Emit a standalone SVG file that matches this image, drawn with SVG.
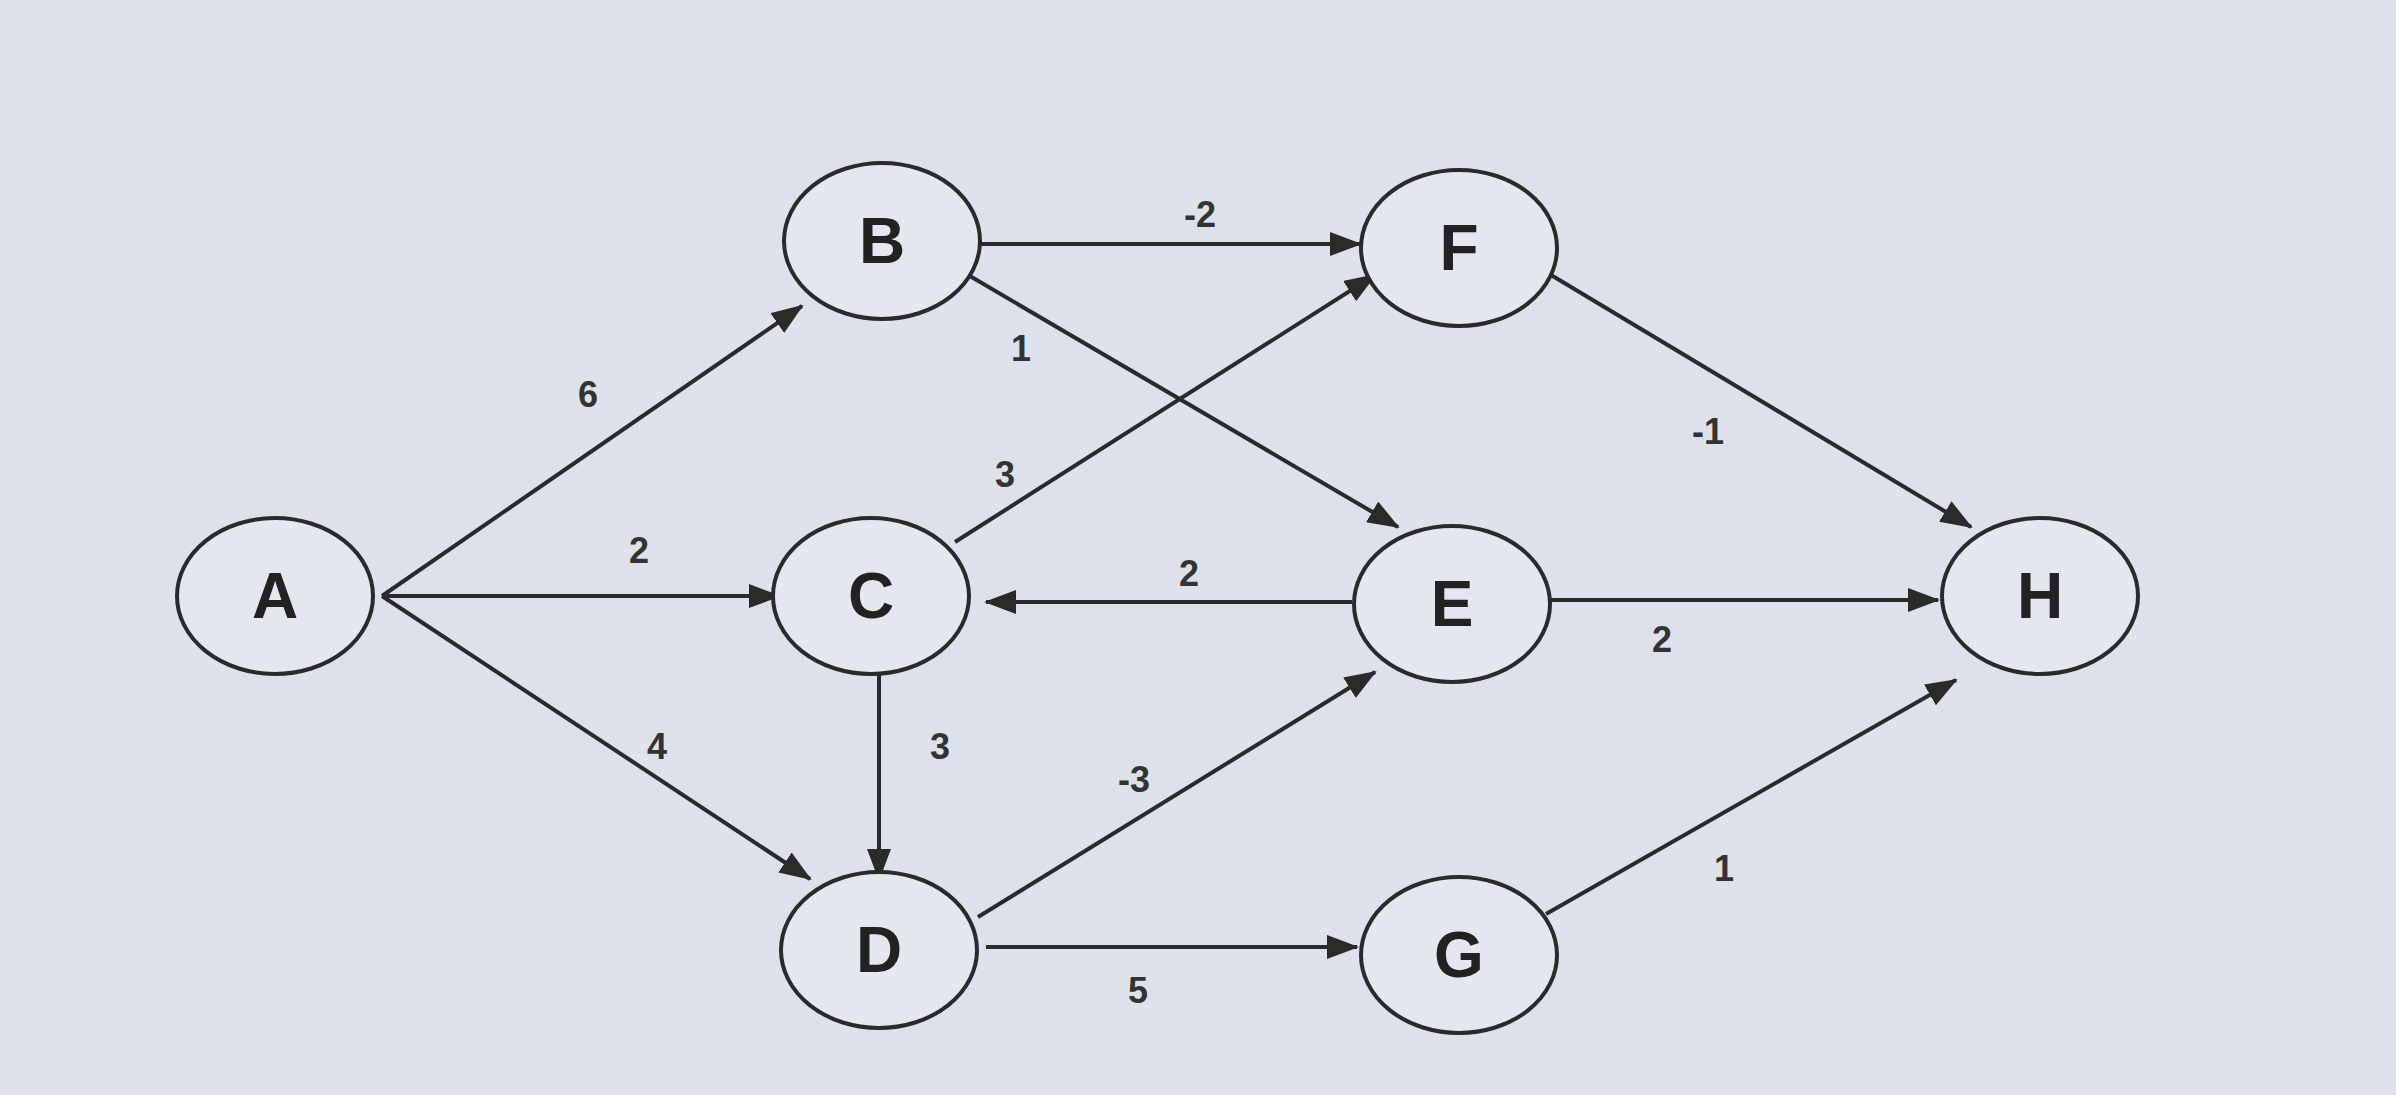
<svg xmlns="http://www.w3.org/2000/svg" width="2396" height="1095" viewBox="0 0 2396 1095">
<style>
.n ellipse{fill:#e4e8ee;stroke:#2a2a2a;stroke-width:4}
.n text{font-family:"Liberation Sans",Arial,sans-serif;font-size:64px;font-weight:bold;fill:#222;text-anchor:middle;dominant-baseline:central}
.e line{stroke:#2a2a2a;stroke-width:4;marker-end:url(#ah)}
.l{font-family:"Liberation Sans",Arial,sans-serif;font-size:36px;font-weight:bold;fill:#333;text-anchor:middle;dominant-baseline:central}
</style>
<defs><marker id="ah" markerWidth="8" markerHeight="6" refX="7.5" refY="3" orient="auto" markerUnits="strokeWidth"><path d="M0,0L8,3L0,6z" fill="#2a2a2a"/></marker></defs>
<rect width="2396" height="1095" fill="#dde2ea"/>
<g id="edges" class="e">
<line x1="382" y1="596" x2="802" y2="306"/>
<line x1="382" y1="596" x2="779" y2="596"/>
<line x1="382" y1="596" x2="810" y2="879"/>
<line x1="978" y1="244" x2="1360" y2="244"/>
<line x1="963" y1="272" x2="1398" y2="527"/>
<line x1="955" y1="542" x2="1375" y2="275"/>
<line x1="1352" y1="602" x2="986" y2="602"/>
<line x1="879" y1="675" x2="879" y2="879"/>
<line x1="978" y1="917" x2="1375" y2="672"/>
<line x1="986" y1="947" x2="1357" y2="947"/>
<line x1="1546" y1="272" x2="1971" y2="527"/>
<line x1="1551" y1="600" x2="1938" y2="600"/>
<line x1="1546" y1="914" x2="1956" y2="680"/>
</g>
<g id="labels">
<text class="l" x="588" y="394">6</text>
<text class="l" x="639" y="550">2</text>
<text class="l" x="657" y="746">4</text>
<text class="l" x="1200" y="214">-2</text>
<text class="l" x="1021" y="348">1</text>
<text class="l" x="1005" y="474">3</text>
<text class="l" x="1189" y="573">2</text>
<text class="l" x="940" y="746">3</text>
<text class="l" x="1134" y="779">-3</text>
<text class="l" x="1138" y="990">5</text>
<text class="l" x="1708" y="431">-1</text>
<text class="l" x="1662" y="639">2</text>
<text class="l" x="1724" y="868">1</text>
</g>
<g id="A" class="n"><ellipse cx="275" cy="596" rx="98" ry="78"/><text x="275" y="596">A</text></g>
<g id="B" class="n"><ellipse cx="882" cy="241" rx="98" ry="78"/><text x="882" y="241">B</text></g>
<g id="C" class="n"><ellipse cx="871" cy="596" rx="98" ry="78"/><text x="871" y="596">C</text></g>
<g id="D" class="n"><ellipse cx="879" cy="950" rx="98" ry="78"/><text x="879" y="950">D</text></g>
<g id="E" class="n"><ellipse cx="1452" cy="604" rx="98" ry="78"/><text x="1452" y="604">E</text></g>
<g id="F" class="n"><ellipse cx="1459" cy="248" rx="98" ry="78"/><text x="1459" y="248">F</text></g>
<g id="G" class="n"><ellipse cx="1459" cy="955" rx="98" ry="78"/><text x="1459" y="955">G</text></g>
<g id="H" class="n"><ellipse cx="2040" cy="596" rx="98" ry="78"/><text x="2040" y="596">H</text></g>
</svg>
